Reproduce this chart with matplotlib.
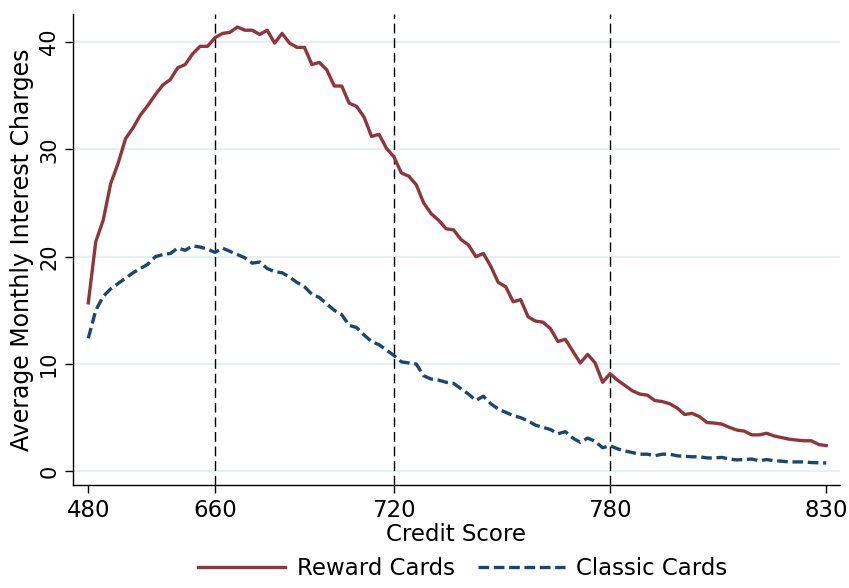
import numpy as np
import matplotlib
matplotlib.use("Agg")
import matplotlib.pyplot as plt
from matplotlib import font_manager

# average monthly interest charges by credit score rank (100 bins)
reward_cards = [
    15.7, 21.4, 23.4, 26.8, 28.7, 31.0, 32.0, 33.2, 34.1, 35.1,
    36.0, 36.5, 37.6, 37.9, 38.9, 39.6, 39.6, 40.4, 40.8, 40.9,
    41.4, 41.1, 41.1, 40.7, 41.1, 39.9, 40.8, 39.9, 39.5, 39.5,
    37.9, 38.1, 37.4, 35.9, 35.9, 34.3, 34.0, 33.0, 31.2, 31.4,
    30.1, 29.3, 27.8, 27.5, 26.7, 25.0, 24.0, 23.4, 22.6, 22.5,
    21.6, 21.1, 20.0, 20.3, 19.1, 17.6, 17.2, 15.8, 16.0, 14.4,
    14.0, 13.9, 13.3, 12.1, 12.3, 11.2, 10.1, 10.9, 10.1, 8.3,
    9.1, 8.5, 8.0, 7.5, 7.2, 7.1, 6.6, 6.5, 6.3, 5.9,
    5.3, 5.4, 5.1, 4.55, 4.5, 4.4, 4.1, 3.85, 3.75, 3.4,
    3.4, 3.55, 3.3, 3.15, 3.0, 2.92, 2.85, 2.85, 2.5, 2.4,
]
classic_cards = [
    12.4, 15.0, 16.3, 17.0, 17.5, 18.0, 18.5, 18.9, 19.3, 20.0,
    20.2, 20.3, 20.8, 20.6, 21.0, 20.9, 20.7, 20.4, 20.8, 20.5,
    20.2, 19.9, 19.4, 19.5, 18.9, 18.6, 18.5, 18.1, 17.6, 17.2,
    16.5, 16.2, 15.6, 15.0, 14.6, 13.6, 13.4, 12.7, 12.1, 11.8,
    11.3, 10.8, 10.2, 10.1, 10.0, 8.9, 8.6, 8.5, 8.3, 8.2,
    7.7, 7.2, 6.6, 7.0, 6.3, 5.8, 5.5, 5.2, 5.0, 4.7,
    4.3, 4.1, 3.9, 3.5, 3.7, 3.1, 2.7, 3.1, 2.8, 2.2,
    2.4, 2.1, 1.9, 1.75, 1.6, 1.6, 1.45, 1.6, 1.6, 1.45,
    1.4, 1.36, 1.36, 1.25, 1.25, 1.3, 1.15, 1.07, 1.1, 1.15,
    0.99, 1.1, 0.99, 0.95, 0.88, 0.88, 0.88, 0.82, 0.8, 0.78,
]
score_labels = ["480", "660", "720", "780", "830"]
score_rank = [0, 17, 41, 70, 99]
cutoffs = [17, 41, 70]
y_ticks = [0, 10, 20, 30, 40]

names = {f.name for f in font_manager.fontManager.ttflist}
narrow = "Liberation Sans Narrow" if "Liberation Sans Narrow" in names else "DejaVu Sans"

red = "#90353b"
navy = "#1a476f"

x = np.arange(len(reward_cards))

fig = plt.figure(figsize=(8.49, 5.88), dpi=100)
ax = fig.add_axes([0.086, 0.175, 0.903, 0.801])

for v in y_ticks:
    ax.axhline(v, color="#e9eef0", lw=1.6, zorder=0)
for c in cutoffs:
    ax.axvline(c, color="black", lw=1.0, dashes=(7, 3.5), zorder=1)

ax.plot(x, reward_cards, color=red, lw=2.4, label="Reward Cards", zorder=3)
ax.plot(x, classic_cards, color=navy, lw=2.4, dashes=(3.2, 1.4),
        label="Classic Cards", zorder=3)

ax.set_xlim(-2.05, 100.8)
ax.set_ylim(-1.28, 42.6)

ax.spines["top"].set_visible(False)
ax.spines["right"].set_visible(False)
ax.spines["left"].set_linewidth(1.0)
ax.spines["bottom"].set_linewidth(1.0)

ax.set_xticks(score_rank)
ax.set_xticklabels(score_labels, fontfamily=narrow, fontsize=16.5)
ax.set_yticks(y_ticks)
ax.set_yticklabels([str(v) for v in y_ticks], rotation=90, va="center",
                   fontsize=15)
ax.tick_params(axis="both", direction="out", length=6, width=1.0, colors="black")
ax.tick_params(axis="x", pad=4)
ax.tick_params(axis="y", pad=4)

ax.set_xlabel("Credit Score", fontfamily=narrow, fontsize=16.5, labelpad=1)
ax.set_ylabel("Average Monthly Interest Charges", fontsize=17, labelpad=4)

fig.legend(loc="lower center", bbox_to_anchor=(0.545, -0.022), ncol=2,
           frameon=False, prop={"family": narrow, "size": 16.5},
           handlelength=3.8, columnspacing=1.0, handletextpad=0.5)

fig.savefig("out.png", dpi=100, facecolor="white")
